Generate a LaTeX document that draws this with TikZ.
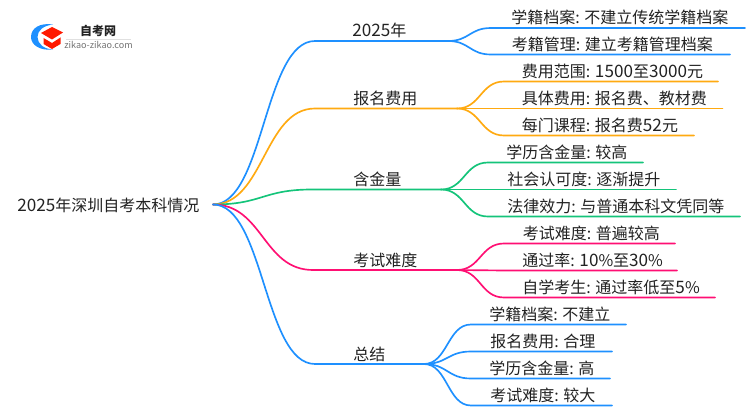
\documentclass[tikz,border=0pt]{standalone}
\usepackage{fontspec}
\setmainfont{Noto Sans CJK SC}
\newfontfamily\dgf[Scale=1.07]{Noto Sans CJK SC}
\newcommand{\dg}[1]{{\dgf #1}}
\definecolor{cblue}{HTML}{1E90FF}
\definecolor{corange}{HTML}{FFAA11}
\definecolor{cgreen}{HTML}{14C47A}
\definecolor{cpink}{HTML}{FF0F73}
\definecolor{ctext}{HTML}{222222}
\tikzset{
  lbl/.style={anchor=west,inner sep=0pt,text=ctext,font=\fontsize{12pt}{12pt}\selectfont,text height=9pt,text depth=2pt,yshift=-0.6pt},
  link/.style={line width=1.25pt,line cap=round},
}
\usetikzlibrary{calc}
% \forkto{colour}{from}{y}{knee x}{end x}{name}
\newcommand{\forkto}[6]{%
  \coordinate (#6k) at (#4,#3);
  \coordinate (#6e) at (#5,#3);
  \coordinate (#6m) at ($(#2)!0.5!(#6k)$);
  \draw[link,#1] (#2) .. controls (#6m |- #2) and (#6m |- #6k) .. (#6k) -- (#6e);
}
\begin{document}
\begin{tikzpicture}[x=0.75pt,y=-0.75pt]
\useasboundingbox (0,0) rectangle (750,410);
% logo
\fill[cblue] (53,24.5) .. controls (40,22.5) and (31,28) .. (31,37) .. controls (31,45) and (40,51) .. (53,49.5) .. controls (44,49) and (37.5,44) .. (37.5,37) .. controls (37.5,30) and (44,25.5) .. (53,24.5) -- cycle;
\fill[red!80!orange] (41,33) -- (52,27) -- (63,32.5) -- (52,39.5) -- cycle;
\fill[red!80!orange] (43.5,38) -- (52,43) -- (60.5,37.5) -- (60.5,44) -- (52,49) -- (43.5,44) -- cycle;
\node[inner sep=0pt,text=ctext,font=\fontsize{9pt}{9pt}\selectfont\bfseries] (logot) at (98,30.5) {自考网};
\node[inner sep=0pt,text=black!55,font=\fontsize{6.8pt}{7pt}\selectfont] (logou) at (98.5,45) {zikao-zikao.com};
\draw[black!12,line width=0.5pt] (66,39) -- (131,39);
% root
\node[lbl] (root) at (17,206) {\dg{2025}年深圳自考本科情况};
\coordinate (o) at (213,204.5);
% branches
\forkto{cblue}{o}{41}{315}{448}{a}
\forkto{corange}{o}{108.5}{315}{457}{b}
\forkto{cgreen}{o}{189.5}{312}{441}{c}
\forkto{cpink}{o}{270}{313}{457}{d}
\forkto{cblue}{o}{364}{315}{424}{e}
\node[lbl] (at) at (352,31) {\dg{2025}年};
\node[lbl] (bt) at (353,99) {报名费用};
\node[lbl] (ct) at (353,180) {含金量};
\node[lbl] (dt) at (353,261) {考试难度};
\node[lbl] (et) at (353,355) {总结};
% leaves
\forkto{cblue}{ae}{28}{491}{745}{a1}
\forkto{cblue}{ae}{54.5}{491}{730}{a2}
\forkto{corange}{be}{81.5}{504}{718}{b1}
\forkto{corange}{be}{108.5}{504}{722.5}{b2}
\forkto{corange}{be}{135.5}{504}{694}{b3}
\forkto{cgreen}{ce}{162.5}{488}{643}{c1}
\forkto{cgreen}{ce}{189.5}{488}{676}{c2}
\forkto{cgreen}{ce}{216.5}{488}{740}{c3}
\forkto{cpink}{de}{243.5}{504}{675}{d1}
\forkto{cpink}{de}{270.5}{504}{677}{d2}
\forkto{cpink}{de}{297.5}{504}{715}{d3}
\forkto{cblue}{ee}{324.5}{471}{626}{e1}
\forkto{cblue}{ee}{351.5}{471}{612}{e2}
\forkto{cblue}{ee}{378.5}{471}{610}{e3}
\forkto{cblue}{ee}{405.5}{471}{612}{e4}
\node[lbl] (a1t) at (511,18) {学籍档案: 不建立传统学籍档案};
\node[lbl] (a2t) at (511.5,45) {考籍管理: 建立考籍管理档案};
\node[lbl] (b1t) at (521.5,72) {费用范围: \dg{1500}至\dg{3000}元};
\node[lbl] (b2t) at (521.5,99) {具体费用: 报名费、教材费};
\node[lbl] (b3t) at (521.5,126) {每门课程: 报名费\dg{52}元};
\node[lbl] (c1t) at (506,153) {学历含金量: 较高};
\node[lbl] (c2t) at (507,180) {社会认可度: 逐渐提升};
\node[lbl] (c3t) at (507,207) {法律效力: 与普通本科文凭同等};
\node[lbl] (d1t) at (522.5,234) {考试难度: 普遍较高};
\node[lbl] (d2t) at (522,261) {通过率: \dg{10}\%至\dg{30}\%};
\node[lbl] (d3t) at (522,288) {自学考生: 通过率低至\dg{5}\%};
\node[lbl] (e1t) at (489,315) {学籍档案: 不建立};
\node[lbl] (e2t) at (490,342) {报名费用: 合理};
\node[lbl] (e3t) at (489,369) {学历含金量: 高};
\node[lbl] (e4t) at (490,396) {考试难度: 较大};
\end{tikzpicture}
\end{document}
